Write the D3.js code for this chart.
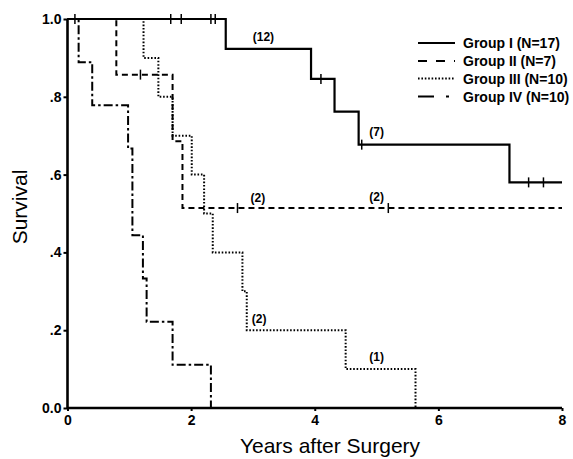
<!DOCTYPE html>
<html><head><meta charset="utf-8">
<script src="https://cdn.jsdelivr.net/npm/d3@7"></script>
<style>
html,body{margin:0;padding:0;background:#fff;}
svg{display:block;font-family:"Liberation Sans",Arial,Helvetica,sans-serif;}
</style></head>
<body>
<svg id="chart" width="573" height="459"></svg>
<script>
// ---- data ----
const groupNames = ["Group I (N=17)", "Group II (N=7)", "Group III (N=10)", "Group IV (N=10)"];

const g1Times = [0, 2.56, 3.94, 4.32, 4.71, 7.15, 8];
const g1Surv  = [1.0, 0.923, 0.846, 0.762, 0.677, 0.580, 0.580];
const g1Censor = [1.67, 1.84, 2.32, 2.39, 4.10, 4.76, 7.46, 7.70];

const g2Times = [0, 0.79, 1.70, 1.86, 8];
const g2Surv  = [1.0, 0.857, 0.686, 0.514, 0.514];
const g2Censor = [1.18, 2.75, 5.19];

const g3Times = [0, 1.23, 1.47, 1.70, 2.01, 2.21, 2.35, 2.83, 2.90, 4.50, 5.63];
const g3Surv  = [1.0, 0.9, 0.8, 0.7, 0.6, 0.5, 0.4, 0.3, 0.2, 0.1, 0.0];
const g3Censor = [];

const g4Times = [0, 0.18, 0.40, 0.98, 1.05, 1.22, 1.28, 1.70, 2.32];
const g4Surv  = [1.0, 0.889, 0.778, 0.667, 0.444, 0.333, 0.222, 0.111, 0.0];
const g4Censor = [0.12];

const riskLabels = ["(12)", "(7)", "(2)", "(2)", "(2)", "(1)"];
const riskLabelT = [3.17, 5.0, 3.08, 5.0, 3.10, 5.0];
const riskLabelS = [0.943, 0.699, 0.530, 0.532, 0.219, 0.121];

const xTicks = [0, 2, 4, 6, 8];
const yTicks = [0, 0.2, 0.4, 0.6, 0.8, 1.0];
const yTickLabels = ["0.0", ".2", ".4", ".6", ".8", "1.0"];

// ---- drawing ----
const svg = d3.select("#chart");
const x = d3.scaleLinear().domain([0, 8]).range([67.5, 562]);
const y = d3.scaleLinear().domain([0, 1]).range([408, 19]);

const groups = [
  {t: g1Times, s: g1Surv, c: g1Censor, dash: null, w: 2.2},
  {t: g2Times, s: g2Surv, c: g2Censor, dash: "6,4", w: 2},
  {t: g3Times, s: g3Surv, c: g3Censor, dash: "1.6,1.8", w: 2},
  {t: g4Times, s: g4Surv, c: g4Censor, dash: "9,3,2.5,3", w: 2}
];

const line = d3.line().x(d => x(d[0])).y(d => y(d[1])).curve(d3.curveStepAfter);

groups.forEach(g => {
  const pts = g.t.map((t, i) => [t, g.s[i]]);
  svg.append("path").attr("d", line(pts))
    .attr("fill", "none").attr("stroke", "#000")
    .attr("stroke-width", g.w)
    .attr("stroke-dasharray", g.dash);
  // censor marks
  g.c.forEach(ct => {
    let idx = d3.bisectRight(g.t, ct) - 1;
    const sv = g.s[Math.max(0, idx)];
    svg.append("line")
      .attr("x1", x(ct)).attr("x2", x(ct))
      .attr("y1", y(sv) - 5).attr("y2", y(sv) + 5)
      .attr("stroke", "#000").attr("stroke-width", 1.5);
  });
});

// axes
const xAxis = d3.axisBottom(x).tickValues(xTicks).tickFormat(d3.format("d")).tickSize(3).tickPadding(4);
const yAxis = d3.axisLeft(y).tickValues(yTicks).tickFormat((d, i) => yTickLabels[i]).tickSize(4).tickPadding(2);

const gx = svg.append("g").attr("transform", "translate(0,408)").call(xAxis);
const gy = svg.append("g").attr("transform", "translate(67.5,0)").call(yAxis);
[gx, gy].forEach(g => {
  g.select(".domain").attr("stroke", "#000").attr("stroke-width", 2.6);
  g.selectAll(".tick line").attr("stroke", "#000").attr("stroke-width", 2);
  g.selectAll(".tick text").attr("font-size", 14).attr("font-weight", "bold")
    .attr("font-family", "'Liberation Sans',Arial,sans-serif").attr("fill", "#000");
});
gx.select(".domain").attr("d", "M67.5,0H562");
gy.select(".domain").attr("d", "M0,408V19");

// axis titles
svg.append("text").attr("x", 330).attr("y", 453).attr("text-anchor", "middle")
  .attr("font-size", 21).text("Years after Surgery");
svg.append("text").attr("transform", "translate(27,207) rotate(-90)")
  .attr("text-anchor", "middle").attr("font-size", 21).text("Survival");

// risk labels
riskLabels.forEach((lab, i) => {
  svg.append("text").attr("x", x(riskLabelT[i])).attr("y", y(riskLabelS[i]))
    .attr("text-anchor", "middle").attr("font-size", 12).attr("font-weight", "bold").text(lab);
});

// legend
const legRows = [43, 61, 78.5, 96.5];
groups.forEach((g, i) => {
  svg.append("line").attr("x1", 418).attr("x2", 455)
    .attr("y1", legRows[i]).attr("y2", legRows[i])
    .attr("stroke", "#000").attr("stroke-width", 2)
    .attr("stroke-dasharray", i === 3 ? "16,12,3,20" : (i === 1 ? "9,9" : g.dash));
  svg.append("text").attr("x", 463).attr("y", legRows[i] + 5)
    .attr("font-size", 14).attr("font-weight", "bold").text(groupNames[i]);
});
</script>
</body></html>
